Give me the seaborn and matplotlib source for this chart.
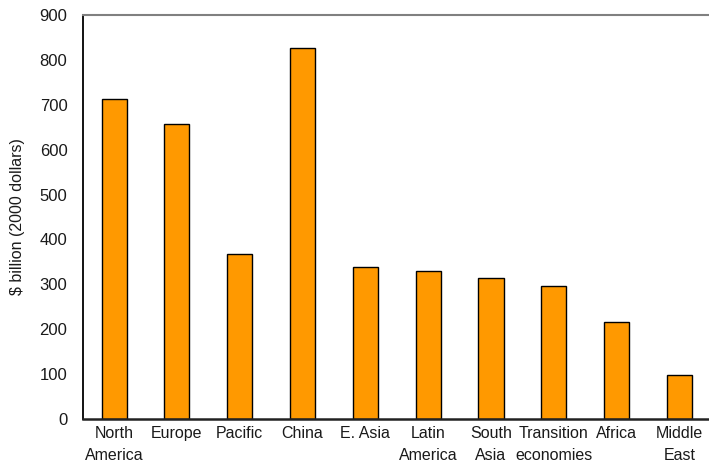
import matplotlib
matplotlib.use("Agg")
import matplotlib.pyplot as plt
import seaborn as sns
import pandas as pd

# Regional values, $ billion (2000 dollars)
regions = ["North\nAmerica", "Europe", "Pacific", "China", "E. Asia",
           "Latin\nAmerica", "South\nAsia", "Transition\neconomies",
           "Africa", "Middle\nEast"]
values = [713, 656, 368, 826, 338, 329, 314, 297, 216, 99]
y_ticks = [0, 100, 200, 300, 400, 500, 600, 700, 800, 900]

sns.set_theme(style="white")
plt.rcParams["font.family"] = ["Liberation Sans", "DejaVu Sans"]

df = pd.DataFrame({"region": regions, "value": values})

fig = plt.figure(figsize=(7.09, 4.66), dpi=100)
ax = fig.add_axes([0.1166, 0.1002, 0.8861, 0.8683])

sns.barplot(data=df, x="region", y="value", color="#FF9900", saturation=1,
            width=0.4, edgecolor="black", linewidth=1.0, ax=ax)

ax.set_ylim(0, 900)
ax.set_yticks(y_ticks)
ax.set_xlim(-0.5, len(regions) - 0.5)

ax.set_xlabel("")
ax.set_ylabel("$ billion (2000 dollars)", fontsize=11.5, color="#1a1a1a")
ax.yaxis.set_label_coords(-0.092, 0.5)

ax.tick_params(axis="y", length=0, pad=11, labelsize=12, labelcolor="#1a1a1a")
ax.tick_params(axis="x", length=0, pad=5, labelsize=11.5, labelcolor="#1a1a1a")
for lbl in ax.get_xticklabels():
    lbl.set_linespacing(1.55)
    lbl.set_ha("center")

ax.spines["left"].set_color("black")
ax.spines["left"].set_linewidth(1.3)
ax.spines["bottom"].set_color("#222222")
ax.spines["bottom"].set_linewidth(1.8)
ax.spines["top"].set_color("#808080")
ax.spines["top"].set_linewidth(1.5)
ax.spines["right"].set_visible(False)
ax.grid(False)

fig.savefig("out.png", dpi=100)
